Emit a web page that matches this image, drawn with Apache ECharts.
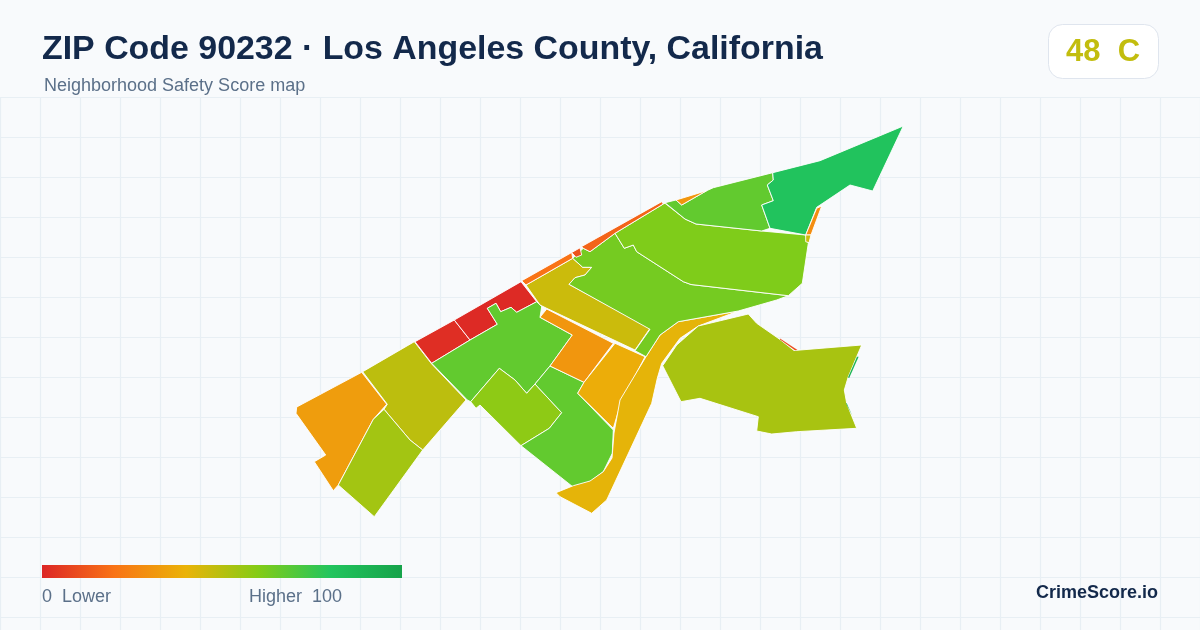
<!DOCTYPE html>
<html>
<head>
<meta charset="utf-8">
<title>ZIP Code 90232 safety score map</title>
<script src="https://cdn.jsdelivr.net/npm/echarts@6/dist/echarts.min.js"></script>
<style>
  html, body { margin: 0; padding: 0; background: #f8fafc; }
  #chart { width: 1200px; height: 630px; }
</style>
</head>
<body>
<div id="chart"></div>
<script>
// overall score + grade shown in the badge
const overallScore = 48;
const overallGrade = 'C';

// neighborhoods, drawn in this order
const tractNames = [
  'sw', 'west', 'lowerWest', 'coastRed1', 'coastRed2', 'westGreen', 'southLime', 'southGreen',
  'midOrange', 'midYellow', 'creek', 'midStrip', 'central', 'upper', 'northLime', 'northEast',
  'sliverNorth', 'sliverEast', 'sliverEastLow', 'coastA', 'coastB', 'coastC', 'east',
  'sliverRed', 'sliverGreen1', 'sliverGreen2'
];
const tractScores = [
  33, 49, 54, 2, 1, 67, 58, 67,
  31, 38, 41, 46, 63, 61, 67, 81,
  31, 28, 46, 20, 12, 16, 53,
  10, 90, 90
];
// too thin to carry a border
const hairlineTracts = ['sliverRed', 'sliverGreen1', 'sliverGreen2'];
// traced outlines in map units, origin at the map's top left corner, y pointing down
const tractOutlines = [
  [[0.7,281],[65.7,246.3],[90.7,278.3],[77.3,293.3],[42.3,359],[37.3,364.7],[18.3,335.7],[29.7,329],[0,287.3]],
  [[66.7,245.7],[118.3,215.7],[135.7,238],[170,274],[126.7,324],[114,314],[88,283.3],[91.3,278.3]],
  [[88,283.3],[114,314],[126.7,324],[78.3,390.7],[42.3,359],[77.3,293.3]],
  [[119,215.7],[158.3,194],[174,214],[135.7,237.3]],
  [[158.3,194],[225,155.7],[240.7,175.7],[220.7,186.3],[215,181.3],[204.7,185.7],[200,177.3],[191.3,182.3],[201.3,198.3],[174,214]],
  [[135.7,237.3],[174,214],[201.3,198.3],[191.3,182.3],[200,177.3],[204.7,185.7],[215,181.3],[220.7,186.3],[240.7,175.7],[245.7,180.7],[244,191.3],[276.3,209],[254,240],[239,258],[230.7,267.3],[219,254],[203.3,242.3],[174.7,275.7],[171.3,274]],
  [[203.3,242.3],[219,254],[230.7,267.3],[239,258],[265.7,286.7],[253.3,302.3],[225,319.7],[184,279],[180,282.3],[174.7,275.7]],
  [[239,258],[254,240],[288,256.3],[281.7,267.3],[317.3,304],[316.3,327.3],[307.3,345.7],[294,355.7],[276.7,360.7],[225,319.7],[253.3,302.3],[265.7,286.7]],
  [[250.7,183],[317.3,217.3],[288,256.3],[254,240],[276.3,209],[244,191.3]],
  [[319,217.3],[349,230.7],[324.7,277.3],[317.3,302.3],[281.7,267.3],[288,256.3]],
  [[260,366.7],[277.3,359.7],[294,355],[307.3,345.7],[316,332],[318,307],[324,274],[350,230.7],[364,209],[382.3,195.7],[442.3,185],[402.3,200],[384,212.3],[365.7,237.3],[361.3,252.3],[355.7,277.3],[310.7,374],[295.7,387.3],[264,370.7]],
  [[230,159],[276.7,132.3],[286.7,141.3],[295.7,141.3],[289,149],[279,151.7],[273,158.3],[354,202.3],[339,224],[250.7,182.3],[244,179]],
  [[287.3,122.3],[294,125.7],[319,107.3],[328.3,122.3],[337.3,119],[340.7,125.7],[387.3,155.7],[395,158.5],[492.3,169.7],[480.7,174],[442.3,185],[382.3,195.7],[364,209],[350,230.7],[339,224.7],[354,203.3],[273,158.3],[279,151.7],[289,149],[295.7,141.3],[286.7,141.3],[276.7,132.3]],
  [[319,107.3],[367.3,78],[369,77.3],[389,93],[400,98],[465.7,105],[509.7,109],[512.3,117.3],[506.3,157.3],[492.3,169.7],[395,158.5],[387.3,155.7],[340.7,125.7],[337.3,119],[328.3,122.3]],
  [[369,76.7],[380,74],[385.7,79],[410.7,64.7],[417.3,61.7],[476.7,46.7],[477.3,54],[471.3,59],[477.3,74.7],[465.7,79],[474,102.3],[465.7,105],[400,98],[389,93]],
  [[476.7,46.7],[524,34.7],[607.3,0],[576.7,65],[554,59],[520.7,81.3],[509.7,109],[474,102.3],[465.7,79],[477.3,74.7],[471.3,59],[477.3,54]],
  [[380,74],[410.7,64.7],[385.7,79]],
  [[525.7,80],[520.7,82.3],[509.7,109],[515,109]],
  [[509.7,109],[515,109],[513,116.7],[509.7,115.7]],
  [[225.7,154.7],[275.7,126.5],[276.7,132.3],[230,159]],
  [[275.7,126.5],[284,121.8],[285.7,129],[280,131.3]],
  [[285.7,120.5],[365.7,75.7],[367.3,78],[319,107.3],[294,125.7],[287.3,122.3]],
  [[452.3,188],[460.7,197.3],[484,213.5],[498,224.5],[565.7,219],[560.7,230.7],[552.3,250.7],[548.3,264],[550.7,277.3],[560.7,302.3],[500.7,305.7],[475.7,308],[460.7,305],[462.3,290.7],[404,272.3],[385,275.7],[366.7,239.7],[380.7,219],[402.3,200]],
  [[484,212.5],[501.5,224],[499,224.3],[484,213.5]],
  [[562.6,230.7],[553.2,252],[552,251.5],[561,230.7]],
  [[550.7,277.3],[556.5,290],[555.8,290.3],[549.9,277.3]]
];
// tick labels of the colour bar
const scaleLabels = ['0  Lower', 'Higher  100'];
const scaleColors = ['#dc2626', '#f97316', '#eab308', '#84cc16', '#22c55e', '#16a34a'];

const fontName = '"Liberation Sans", Arial, sans-serif';

echarts.registerMap('zip90232', {
  type: 'FeatureCollection',
  features: tractNames.map((name, i) => ({
    type: 'Feature',
    properties: { name: name },
    geometry: { type: 'Polygon', coordinates: [tractOutlines[i]] }
  }))
});

const chart = echarts.init(document.getElementById('chart'));

const option = {
  animation: false,
  backgroundColor: '#f8fafc',
  textStyle: { fontFamily: fontName },
  title: [
    {
      text: 'ZIP Code 90232 · Los Angeles County, California',
      left: 42, top: 33, padding: 0,
      textStyle: { fontSize: 33.9, fontWeight: 'bold', color: '#13294b', fontFamily: fontName }
    },
    {
      text: 'Neighborhood Safety Score map',
      left: 44, top: 77, padding: 0,
      textStyle: { fontSize: 18, fontWeight: 'normal', color: '#5b7089', fontFamily: fontName }
    }
  ],
  // background lattice
  grid: { left: 0, right: 0, top: 97, bottom: 0 },
  xAxis: {
    type: 'value', min: 0, max: 1200, interval: 40,
    axisLine: { show: false }, axisTick: { show: false }, axisLabel: { show: false },
    splitLine: { show: true, lineStyle: { color: '#e8eff4', width: 1.2 } }
  },
  yAxis: {
    type: 'value', min: 0, max: 533, interval: 40, inverse: true,
    axisLine: { show: false }, axisTick: { show: false }, axisLabel: { show: false },
    splitLine: { show: true, lineStyle: { color: '#e8eff4', width: 1.2 } }
  },
  // the built in bar clips to round corners, so it is hidden and drawn below
  visualMap: {
    type: 'continuous',
    show: false,
    seriesIndex: 0,
    min: 0,
    max: 100,
    inRange: { color: scaleColors }
  },
  series: [
    {
      type: 'map',
      map: 'zip90232',
      projection: {
        project: (p) => p,
        unproject: (p) => p
      },
      left: 296,
      top: 126,
      width: 607.3,
      height: 390.7,
      roam: false,
      silent: true,
      selectedMode: false,
      label: { show: false },
      emphasis: { disabled: true },
      itemStyle: { borderColor: '#ffffff', borderWidth: 0.9 },
      data: tractNames.map((name, i) => ({
        name: name,
        value: tractScores[i],
        itemStyle: hairlineTracts.includes(name) ? { borderWidth: 0 } : undefined
      }))
    }
  ],
  graphic: [
    {
      type: 'rect', z: 10,
      shape: { x: 42, y: 565, width: 360, height: 13 },
      style: {
        fill: new echarts.graphic.LinearGradient(0, 0, 1, 0, scaleColors.map((color, i) => ({
          offset: i / (scaleColors.length - 1),
          color: color
        })))
      }
    },
    {
      type: 'rect', z: 10,
      shape: { x: 1048.5, y: 24.5, width: 110, height: 54, r: 14 },
      style: { fill: '#ffffff', stroke: '#dfe5ee', lineWidth: 1 }
    },
    {
      type: 'text', z: 11, x: 1103, y: 52,
      style: {
        text: overallScore + '  ' + overallGrade,
        fill: '#c2bd0e', font: 'bold 31px ' + fontName,
        textAlign: 'center', textVerticalAlign: 'middle'
      }
    },
    {
      type: 'text', z: 11, x: 42, y: 597,
      style: { text: scaleLabels[0], fill: '#5b7089', font: '18px ' + fontName, textVerticalAlign: 'middle' }
    },
    {
      type: 'text', z: 11, x: 249, y: 597,
      style: { text: scaleLabels[1], fill: '#5b7089', font: '18px ' + fontName, textVerticalAlign: 'middle' }
    },
    {
      type: 'text', z: 11, x: 1158, y: 593,
      style: {
        text: 'CrimeScore.io', fill: '#13294b', font: 'bold 18px ' + fontName,
        textAlign: 'right', textVerticalAlign: 'middle'
      }
    }
  ]
};

chart.setOption(option);
</script>
</body>
</html>
